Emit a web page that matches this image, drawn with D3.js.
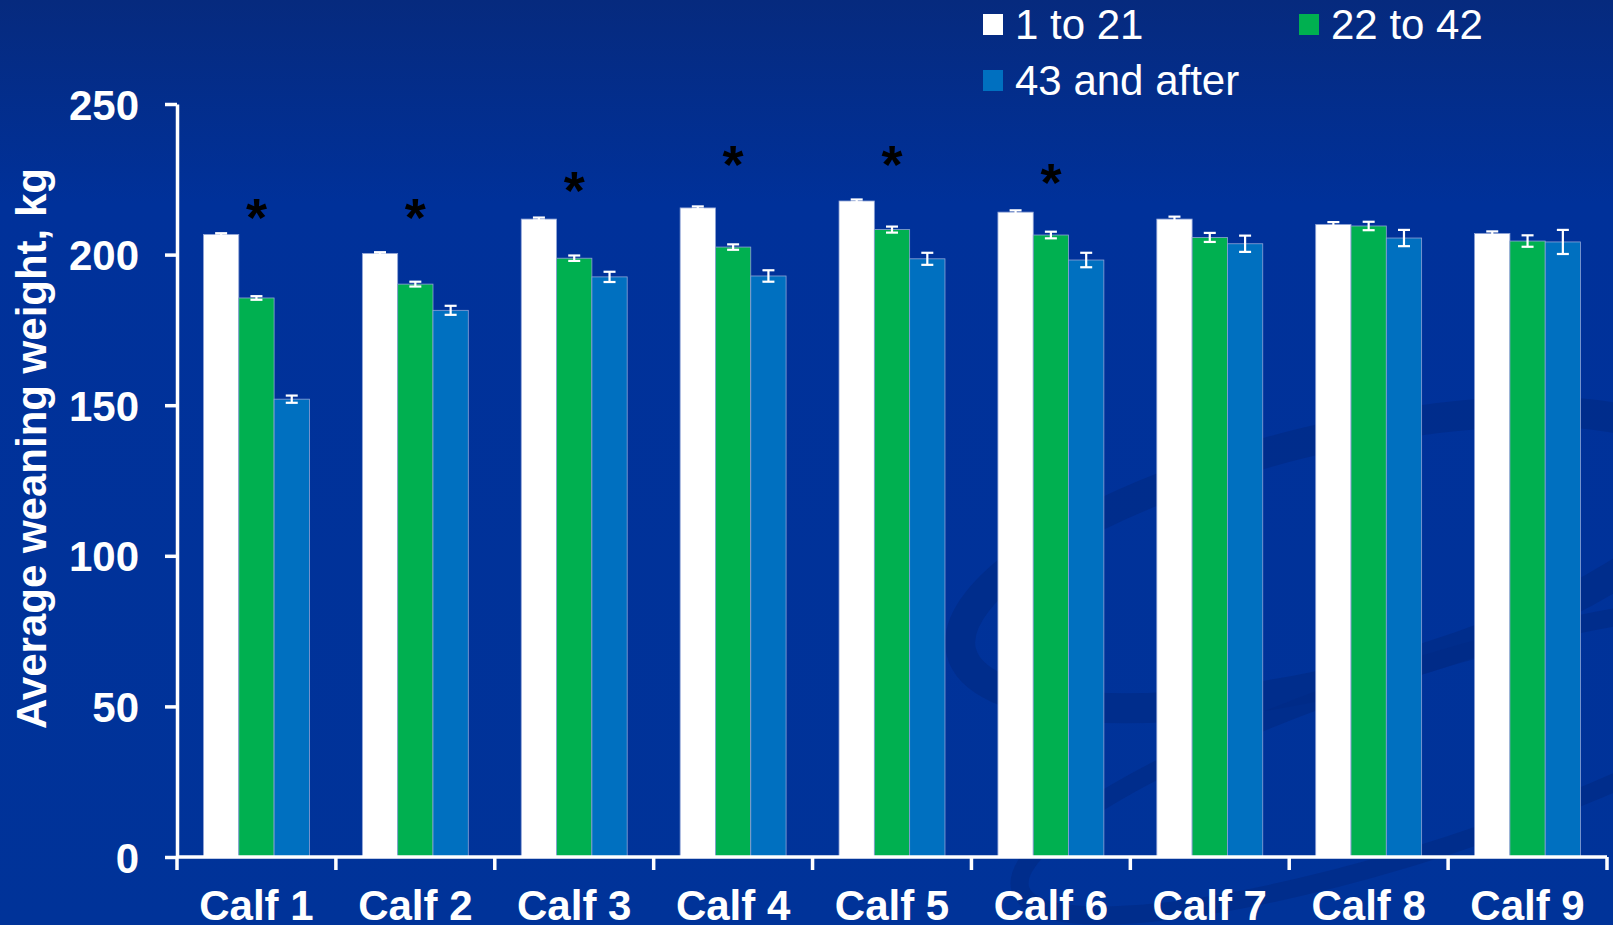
<!DOCTYPE html>
<html>
<head>
<meta charset="utf-8">
<title>Average weaning weight by calf</title>
<script src="https://d3js.org/d3.v7.min.js"></script>
<style>
  body { margin: 0; background: #003399; }
  svg { display: block; font-family: "Liberation Sans", Arial, sans-serif; }
</style>
</head>
<body>
<div id="chart"></div>
<script>
// categories and series
var calves = ["Calf 1", "Calf 2", "Calf 3", "Calf 4", "Calf 5", "Calf 6", "Calf 7", "Calf 8", "Calf 9"];
var series = ["1 to 21", "22 to 42", "43 and after"];
var colors = ["#ffffff", "#00b050", "#0070c0"];

// mean weaning weight (kg) per series
var early  = [206.7, 200.4, 211.8, 215.5, 217.8, 214.1, 211.8, 210.0, 207.0];
var middle = [185.6, 190.2, 198.8, 202.5, 208.3, 206.5, 205.7, 209.5, 204.5];
var late   = [152.0, 181.5, 192.6, 192.9, 198.6, 198.2, 203.6, 205.5, 204.2];

// standard errors
var earlyErr  = [0.4, 0.4, 0.5, 0.5, 0.5, 0.6, 0.8, 0.8, 0.7];
var middleErr = [0.6, 0.8, 0.9, 0.9, 1.0, 1.1, 1.5, 1.4, 1.9];
var lateErr   = [1.2, 1.5, 1.7, 1.9, 2.0, 2.4, 2.7, 2.7, 4.0];

// significance marks (height in kg)
var starCalves = ["Calf 1", "Calf 2", "Calf 3", "Calf 4", "Calf 5", "Calf 6"];
var starLevels = [215, 215, 224, 232.7, 232.7, 226.7];

var yTicks = [0, 50, 100, 150, 200, 250];

var width = 1613, height = 925;
var plotLeft = 177, plotRight = 1607, plotTop = 104, plotBottom = 857;

var svg = d3.select("#chart").append("svg")
    .attr("width", width)
    .attr("height", height);

// background
var defs = svg.append("defs");
var grad = defs.append("linearGradient").attr("id", "bg")
    .attr("x1", 0).attr("y1", 0).attr("x2", 0).attr("y2", 1);
grad.append("stop").attr("offset", "0%").attr("stop-color", "#062a7e");
grad.append("stop").attr("offset", "22%").attr("stop-color", "#00319a");
grad.append("stop").attr("offset", "100%").attr("stop-color", "#003399");
svg.append("rect").attr("width", width).attr("height", height).attr("fill", "url(#bg)");

// faint swooshes in the lower right
var swoosh = svg.append("g").attr("fill", "none").attr("stroke", "#002b86").attr("stroke-opacity", 0.7);
swoosh.append("ellipse")
    .attr("cx", 1330).attr("cy", 560).attr("rx", 380).attr("ry", 120)
    .attr("transform", "rotate(-14 1330 560)")
    .attr("stroke-width", 30);
swoosh.append("ellipse")
    .attr("cx", 1420).attr("cy", 760).attr("rx", 420).attr("ry", 90)
    .attr("transform", "rotate(-18 1420 760)")
    .attr("stroke-width", 18);

// scales
var x0 = d3.scaleBand().domain(calves).range([plotLeft, plotRight]).paddingInner(0).paddingOuter(0);
var x1 = d3.scaleBand().domain(series).range([0, x0.bandwidth()]).paddingInner(0).paddingOuter(0.75);
var y = d3.scaleLinear().domain([0, 250]).range([plotBottom, plotTop]);

var rows = calves.map(function(c, i) {
    return {
        calf: c,
        vals: [
            { s: series[0], v: early[i],  e: earlyErr[i] },
            { s: series[1], v: middle[i], e: middleErr[i] },
            { s: series[2], v: late[i],   e: lateErr[i] }
        ]
    };
});

// bars
var groups = svg.append("g").selectAll("g")
    .data(rows)
    .enter().append("g")
    .attr("transform", function(d) { return "translate(" + x0(d.calf) + ",0)"; });

groups.selectAll("rect")
    .data(function(d) { return d.vals; })
    .enter().append("rect")
    .attr("x", function(d) { return x1(d.s); })
    .attr("y", function(d) { return y(d.v); })
    .attr("width", x1.bandwidth())
    .attr("height", function(d) { return y(0) - y(d.v); })
    .attr("fill", function(d, i) { return colors[i]; })
    .attr("stroke", "#8fa3d6")
    .attr("stroke-width", 0.8);

// error bars
var eb = groups.selectAll("g.err")
    .data(function(d) { return d.vals; })
    .enter().append("g")
    .attr("class", "err")
    .attr("stroke", "#ffffff")
    .attr("stroke-width", 2.2);
eb.append("line")
    .attr("x1", function(d) { return x1(d.s) + x1.bandwidth() / 2; })
    .attr("x2", function(d) { return x1(d.s) + x1.bandwidth() / 2; })
    .attr("y1", function(d) { return y(d.v + d.e); })
    .attr("y2", function(d) { return y(d.v - d.e); });
eb.append("line")
    .attr("x1", function(d) { return x1(d.s) + x1.bandwidth() / 2 - 6; })
    .attr("x2", function(d) { return x1(d.s) + x1.bandwidth() / 2 + 6; })
    .attr("y1", function(d) { return y(d.v + d.e); })
    .attr("y2", function(d) { return y(d.v + d.e); });
eb.append("line")
    .attr("x1", function(d) { return x1(d.s) + x1.bandwidth() / 2 - 6; })
    .attr("x2", function(d) { return x1(d.s) + x1.bandwidth() / 2 + 6; })
    .attr("y1", function(d) { return y(d.v - d.e); })
    .attr("y2", function(d) { return y(d.v - d.e); });

// asterisks over the green bars
svg.append("g").selectAll("text")
    .data(starCalves)
    .enter().append("text")
    .attr("x", function(d) { return x0(d) + x1(series[1]) + x1.bandwidth() / 2; })
    .attr("y", function(d, i) { return y(starLevels[i]); })
    .attr("dy", "0.5em")
    .attr("text-anchor", "middle")
    .attr("font-size", 54)
    .attr("font-weight", "bold")
    .attr("fill", "#000000")
    .text("*");

// y axis
var yAxis = svg.append("g")
    .attr("transform", "translate(" + plotLeft + ",0)")
    .call(d3.axisLeft(y).tickValues(yTicks).tickSize(12).tickPadding(26).tickSizeOuter(0));
yAxis.select(".domain").attr("stroke", "#ffffff").attr("stroke-width", 3.5);
yAxis.selectAll(".tick line").attr("stroke", "#ffffff").attr("stroke-width", 3.5);
yAxis.selectAll(".tick text")
    .attr("fill", "#ffffff")
    .attr("font-size", 42)
    .attr("font-weight", "bold")
    .attr("font-family", "Liberation Sans, Arial, sans-serif")
    .attr("dy", "0.36em");

// x axis: line, boundary ticks, labels
var xAxis = svg.append("g");
xAxis.append("line")
    .attr("x1", plotLeft).attr("x2", plotRight)
    .attr("y1", y(0)).attr("y2", y(0))
    .attr("stroke", "#ffffff").attr("stroke-width", 3.5);
var edges = calves.map(function(c) { return x0(c); }).concat([x0(calves[calves.length - 1]) + x0.bandwidth()]);
xAxis.selectAll("line.tk")
    .data(edges)
    .enter().append("line")
    .attr("class", "tk")
    .attr("x1", function(d) { return d; })
    .attr("x2", function(d) { return d; })
    .attr("y1", y(0))
    .attr("y2", y(0) + 13)
    .attr("stroke", "#ffffff").attr("stroke-width", 3.5);
xAxis.selectAll("text")
    .data(calves)
    .enter().append("text")
    .attr("x", function(d) { return x0(d) + x0.bandwidth() / 2; })
    .attr("y", 920)
    .attr("text-anchor", "middle")
    .attr("font-size", 42)
    .attr("font-weight", "bold")
    .attr("fill", "#ffffff")
    .text(function(d) { return d; });

// y axis title
svg.append("text")
    .attr("transform", "translate(46," + ((165 + 732) / 2) + ") rotate(-90)")
    .attr("text-anchor", "middle")
    .attr("font-size", 42)
    .attr("font-weight", "bold")
    .attr("fill", "#ffffff")
    .text("Average weaning weight, kg");

// legend
var legendPos = [[983, 14], [1299, 14], [983, 70]];
var legend = svg.append("g").selectAll("g")
    .data(series)
    .enter().append("g")
    .attr("transform", function(d, i) { return "translate(" + legendPos[i][0] + "," + legendPos[i][1] + ")"; });
legend.append("rect")
    .attr("width", 20).attr("height", 21)
    .attr("fill", function(d, i) { return colors[i]; });
legend.append("text")
    .attr("x", 32).attr("y", 25)
    .attr("font-size", 42)
    .attr("fill", "#ffffff")
    .text(function(d) { return d; });
</script>
</body>
</html>
